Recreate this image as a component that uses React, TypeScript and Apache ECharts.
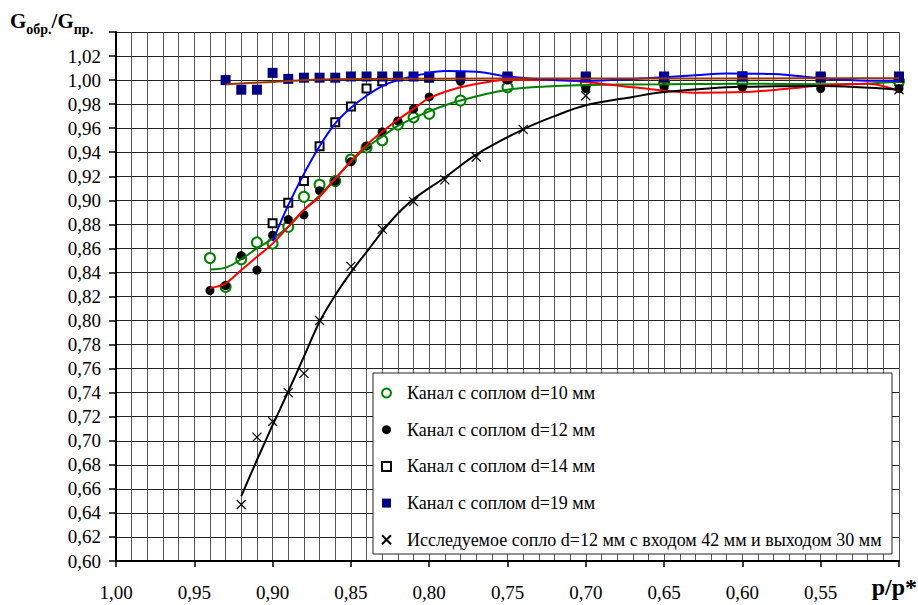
import React, { useEffect, useRef } from 'react';
import * as echarts from 'echarts';

const FONT = '"Liberation Serif", "Times New Roman", "DejaVu Serif", serif';

const legendNames = [
  'Канал с соплом d=10 мм',
  'Канал с соплом d=12 мм',
  'Канал с соплом d=14 мм',
  'Канал с соплом d=19 мм',
  'Исследуемое сопло d=12 мм с входом 42 мм и выходом 30 мм',
];

// Channel with nozzle d=10 mm (open green circles)
const p10 = [0.94, 0.93, 0.92, 0.91, 0.90, 0.89, 0.88, 0.87, 0.86, 0.85, 0.84, 0.83, 0.82, 0.81, 0.80, 0.78, 0.75, 0.70, 0.65, 0.60, 0.50];
const v10 = [0.852, 0.828, 0.851, 0.865, 0.864, 0.878, 0.903, 0.913, 0.916, 0.934, 0.944, 0.950, 0.963, 0.969, 0.972, 0.983, 0.994, 0.997, 0.998, 0.998, 0.999];

// Channel with nozzle d=12 mm (filled black circles)
const p12 = [0.94, 0.93, 0.92, 0.91, 0.90, 0.89, 0.88, 0.87, 0.86, 0.85, 0.84, 0.83, 0.82, 0.81, 0.80, 0.78, 0.75, 0.70, 0.65, 0.60, 0.55, 0.50];
const v12 = [0.825, 0.829, 0.854, 0.842, 0.871, 0.884, 0.888, 0.908, 0.916, 0.932, 0.945, 0.957, 0.966, 0.976, 0.986, 0.999, 1.000, 0.993, 0.994, 0.994, 0.993, 0.993];

// Channel with nozzle d=14 mm (open squares)
const p14 = [0.90, 0.89, 0.88, 0.87, 0.86, 0.85, 0.84, 0.83, 0.80, 0.75, 0.70, 0.65, 0.60, 0.55, 0.50];
const v14 = [0.881, 0.898, 0.916, 0.945, 0.965, 0.978, 0.993, 0.999, 1.002, 1.002, 1.002, 1.002, 1.003, 1.002, 1.002];

// Channel with nozzle d=19 mm (filled navy squares)
const p19 = [0.93, 0.92, 0.91, 0.90, 0.89, 0.88, 0.87, 0.86, 0.85, 0.84, 0.83, 0.82, 0.81, 0.80, 0.78, 0.75, 0.70, 0.65, 0.60, 0.55, 0.50];
const v19 = [1.000, 0.992, 0.992, 1.006, 1.001, 1.002, 1.002, 1.002, 1.003, 1.003, 1.003, 1.003, 1.003, 1.003, 1.003, 1.003, 1.003, 1.003, 1.003, 1.003, 1.003];

// Investigated nozzle (crosses)
const pInv = [0.92, 0.91, 0.90, 0.89, 0.88, 0.87, 0.85, 0.83, 0.81, 0.79, 0.77, 0.74, 0.70, 0.50];
const vInv = [0.647, 0.703, 0.716, 0.740, 0.756, 0.800, 0.845, 0.876, 0.899, 0.917, 0.936, 0.959, 0.987, 0.992];

// Trend curves
const fitP10 = [0.94, 0.93, 0.92, 0.91, 0.90, 0.89, 0.88, 0.87, 0.86, 0.85, 0.84, 0.83, 0.82, 0.80, 0.78, 0.75, 0.72, 0.70, 0.65, 0.60, 0.55, 0.52, 0.50];
const fitV10 = [0.8425, 0.844, 0.851, 0.860, 0.868, 0.878, 0.892, 0.904, 0.918, 0.932, 0.944, 0.953, 0.962, 0.974, 0.983, 0.992, 0.995, 0.996, 0.9965, 0.997, 0.9965, 0.997, 0.999];

const fitP12 = [0.94, 0.93, 0.92, 0.91, 0.90, 0.89, 0.88, 0.87, 0.86, 0.85, 0.84, 0.83, 0.82, 0.81, 0.80, 0.78, 0.76, 0.75, 0.72, 0.70, 0.67, 0.63, 0.60, 0.57, 0.55, 0.52, 0.50];
const fitV12 = [0.827, 0.831, 0.842, 0.853, 0.864, 0.878, 0.892, 0.903, 0.918, 0.9325, 0.946, 0.957, 0.967, 0.976, 0.985, 0.994, 0.999, 1.000, 1.000, 0.9985, 0.994, 0.9895, 0.990, 0.993, 0.9955, 0.997, 0.991];

const fitP14 = [0.90, 0.89, 0.88, 0.87, 0.86, 0.85, 0.84, 0.83, 0.82, 0.80, 0.79, 0.77, 0.75, 0.72, 0.70, 0.67, 0.63, 0.61, 0.58, 0.55, 0.52, 0.50];
const fitV14 = [0.866, 0.896, 0.922, 0.945, 0.964, 0.977, 0.987, 0.995, 1.000, 1.006, 1.0075, 1.007, 1.003, 1.000, 0.9995, 1.001, 1.004, 1.0055, 1.005, 1.0015, 0.9995, 0.9994];

const fitP19 = [0.93, 0.90, 0.87, 0.84, 0.80, 0.70, 0.60, 0.50];
const fitV19 = [0.9965, 0.9985, 1.0005, 1.001, 1.0012, 1.0013, 1.0014, 1.0015];

const fitPInv = [0.92, 0.91, 0.90, 0.89, 0.88, 0.87, 0.86, 0.85, 0.84, 0.83, 0.82, 0.81, 0.79, 0.77, 0.74, 0.72, 0.70, 0.67, 0.65, 0.60, 0.55, 0.50];
const fitVInv = [0.654, 0.684, 0.713, 0.741, 0.770, 0.799, 0.821, 0.840, 0.857, 0.874, 0.889, 0.901, 0.919, 0.938, 0.959, 0.970, 0.979, 0.986, 0.990, 0.9944, 0.995, 0.992];

const xLabel = (v: number) => (Math.abs(v - 0.5) < 1e-6 ? '' : v.toFixed(2).replace('.', ','));
const yLabel = (v: number) => (v > 1.03 ? '' : v.toFixed(2).replace('.', ','));

const zip = (xs: number[], ys: number[]) => xs.map((x, i) => [x, ys[i]]);

export default function App() {
  const ref = useRef<HTMLDivElement>(null);

  useEffect(() => {
    if (!ref.current) return;
    const chart = echarts.init(ref.current, null, { renderer: 'svg' });

    const scatter = (name: string, xs: number[], ys: number[], symbol: string, size: number, itemStyle: any) => ({
      name,
      type: 'scatter',
      data: zip(xs, ys),
      symbol,
      symbolSize: size,
      itemStyle: { opacity: 1, ...itemStyle },
      z: 3,
      emphasis: { disabled: true },
    });
    const fit = (name: string, xs: number[], ys: number[], color: string) => ({
      name,
      type: 'line',
      data: zip(xs, ys),
      smooth: 0.35,
      showSymbol: false,
      symbol: 'none',
      lineStyle: { color, width: 2 },
      itemStyle: { color },
      z: 4,
      silent: true,
      emphasis: { disabled: true },
    });

    chart.setOption({
      animation: false,
      backgroundColor: '#fff',
      textStyle: { fontFamily: FONT },
      grid: { left: 116, right: 19, top: 32, bottom: 44, containLabel: false },
      xAxis: {
        type: 'value',
        inverse: true,
        min: 0.5,
        max: 1.0,
        interval: 0.05,
        axisLine: { show: true, onZero: false, lineStyle: { color: '#000', width: 2 } },
        axisTick: { show: true, length: 6, lineStyle: { color: '#000', width: 1.5 } },
        axisLabel: { fontFamily: FONT, fontSize: 19, color: '#000', margin: 22, formatter: xLabel },
        splitLine: { show: true, lineStyle: { color: '#555', width: 1 } },
        minorTick: { show: false, splitNumber: 5 },
        minorSplitLine: { show: true, lineStyle: { color: '#555', width: 1 } },
      },
      yAxis: {
        type: 'value',
        position: 'left',
        min: 0.6,
        max: 1.04,
        interval: 0.02,
        axisLine: { show: true, onZero: false, lineStyle: { color: '#000', width: 2 } },
        axisTick: { show: true, length: 7, lineStyle: { color: '#000', width: 1.5 } },
        axisLabel: { fontFamily: FONT, fontSize: 19, color: '#000', margin: 15, formatter: yLabel },
        splitLine: { show: true, lineStyle: { color: '#222', width: 1 } },
      },
      legend: {
        orient: 'vertical',
        left: 373,
        top: 373,
        padding: [11, 8, 8, 8],
        itemWidth: 9,
        itemHeight: 9,
        itemGap: 18.7,
        selectedMode: false,
        z: 10,
        textStyle: { fontFamily: FONT, fontSize: 18, color: '#000', lineHeight: 18, padding: [0, 0, 0, 11] },
        data: legendNames,
      },
      graphic: [
        {
          type: 'rect',
          z: 9,
          shape: { x: 373, y: 373, width: 519, height: 181 },
          style: { fill: '#fff', stroke: '#222', lineWidth: 1 },
        },
        {
          type: 'text',
          x: 10,
          y: 10,
          z: 10,
          style: {
            text: '{g|G}{s|обр.}{g|/G}{s|пр.}',
            fill: '#000',
            fontFamily: FONT,
            rich: {
              g: { fontFamily: FONT, fontSize: 21, fontWeight: 'bold', lineHeight: 26, verticalAlign: 'top' },
              s: { fontFamily: FONT, fontSize: 14, fontWeight: 'bold', lineHeight: 14, verticalAlign: 'bottom' },
            },
          },
        },
        {
          type: 'text',
          x: 917,
          y: 587,
          z: 10,
          style: {
            text: 'p/p*',
            fill: '#000',
            fontFamily: FONT,
            fontSize: 24,
            fontWeight: 'bold',
            align: 'right',
            verticalAlign: 'middle',
          },
        },
      ],
      series: [
        scatter(legendNames[0], p10, v10, 'emptyCircle', 10, { color: '#008000', borderColor: '#008000', borderWidth: 1 }),
        scatter(legendNames[1], p12, v12, 'circle', 9, { color: '#000' }),
        scatter(legendNames[2], p14, v14, 'emptyRect', 8, { color: '#000', borderColor: '#000', borderWidth: 1 }),
        scatter(legendNames[3], p19, v19, 'rect', 10, { color: '#000080' }),
        scatter(legendNames[4], pInv, vInv, 'path://M0,0L10,10M10,0L0,10', 9, {
          color: 'rgba(0,0,0,0)',
          borderColor: '#000',
          borderWidth: 1.2,
        }),
        fit('trend10', fitP10, fitV10, '#008000'),
        fit('trend12', fitP12, fitV12, '#ff0000'),
        fit('trend14', fitP14, fitV14, '#0000ff'),
        fit('trend19', fitP19, fitV19, '#993300'),
        fit('trendInv', fitPInv, fitVInv, '#000000'),
      ],
    });

    return () => chart.dispose();
  }, []);

  return <div ref={ref} style={{ width: 918, height: 605, position: 'absolute', left: 0, top: 0 }} />;
}
